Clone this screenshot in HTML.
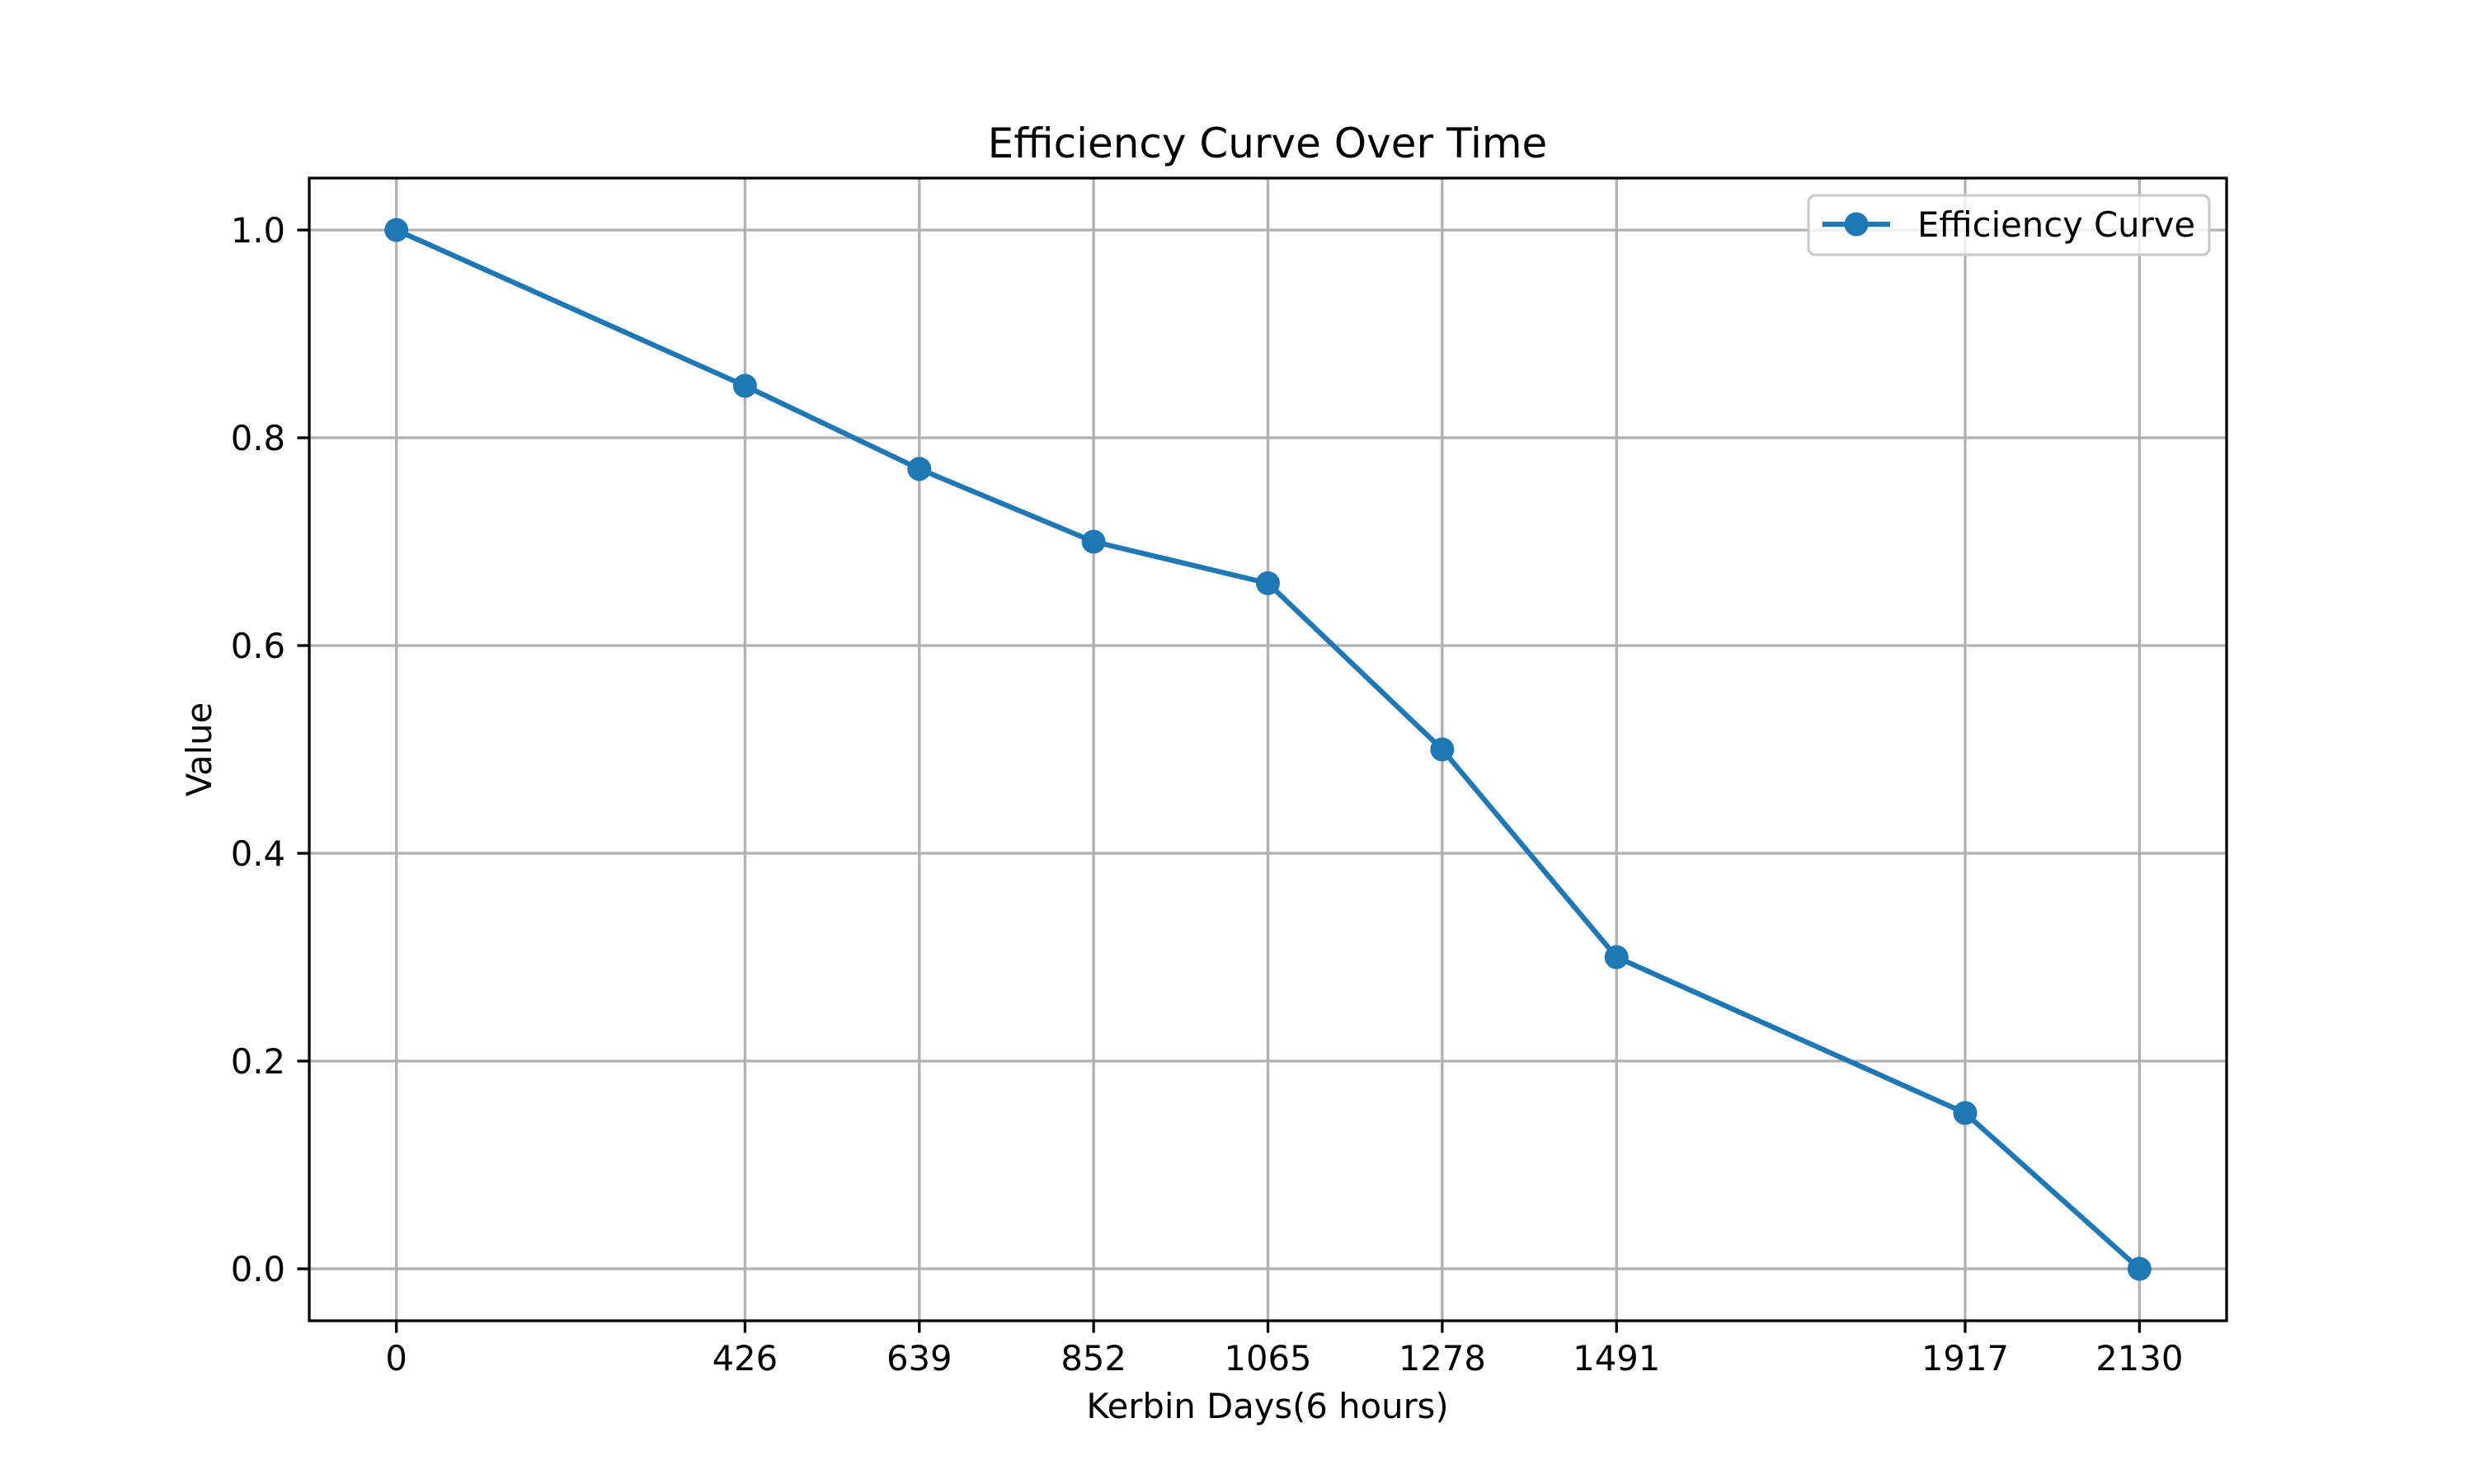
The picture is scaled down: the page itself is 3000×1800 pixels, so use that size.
<!DOCTYPE html>
<html><head><meta charset="utf-8"><style>
html,body{margin:0;padding:0;background:#fff;}
svg{display:block;font-family:"DejaVu Sans","Liberation Sans",sans-serif;}
</style></head><body>
<svg id="chart" width="3000" height="1800" viewBox="0 0 3000 1800" xmlns="http://www.w3.org/2000/svg">
<rect width="3000" height="1800" fill="#fff"/>
<g id="grid"></g>
<g id="series"></g>
<rect x="375" y="216" width="2325" height="1386" fill="none" stroke="#000" stroke-width="3.3"/>
<g id="xticks"></g>
<g id="yticks"></g>
<text x="1537" y="191" text-anchor="middle" font-size="50">Efficiency Curve Over Time</text>
<text x="1537" y="1720" text-anchor="middle" font-size="41.7">Kerbin Days(6 hours)</text>
<text x="0" y="0" transform="translate(256,909) rotate(-90)" text-anchor="middle" font-size="41.7">Value</text>
<g>
<rect x="2193" y="237" width="486" height="72" rx="8" fill="#fff" fill-opacity="0.8" stroke="#cccccc" stroke-width="3.3"/>
<line x1="2210" y1="272" x2="2292" y2="272" stroke="#1f77b4" stroke-width="6.25"/>
<circle cx="2251" cy="272" r="14.5" fill="#1f77b4"/>
<text x="2325" y="287" font-size="41.7">Efficiency Curve</text>
</g>
</svg>
<script>
const xValues = [0, 426, 639, 852, 1065, 1278, 1491, 1917, 2130];
const yValues = [1.0, 0.85, 0.77, 0.70, 0.66, 0.50, 0.30, 0.15, 0.0];
const yTicks = [0.0, 0.2, 0.4, 0.6, 0.8, 1.0];
const yTickLabels = ["0.0", "0.2", "0.4", "0.6", "0.8", "1.0"];

const NS = "http://www.w3.org/2000/svg";
const L = 375, R = 2700, T = 216, B = 1602;
const xmin0 = Math.min(...xValues), xmax0 = Math.max(...xValues);
const xpad = (xmax0 - xmin0) * 0.05;
const xmin = xmin0 - xpad, xmax = xmax0 + xpad;
const ymin = -0.05, ymax = 1.05;
const sx = v => L + (v - xmin) / (xmax - xmin) * (R - L);
const sy = v => B - (v - ymin) / (ymax - ymin) * (B - T);
function mk(tag, attrs, parent) {
  const e = document.createElementNS(NS, tag);
  for (const k in attrs) e.setAttribute(k, attrs[k]);
  parent.appendChild(e);
  return e;
}
const grid = document.getElementById('grid');
const xt = document.getElementById('xticks');
const yt = document.getElementById('yticks');
const series = document.getElementById('series');
xValues.forEach(v => {
  const x = sx(v);
  const g = mk('line', {x1: x, x2: x, y1: T, y2: B, stroke: '#b0b0b0', 'stroke-width': 3.3}, grid);
  
  
  const t = mk('line', {x1: x, x2: x, y1: B, y2: B + 14.6, stroke: '#000', 'stroke-width': 3.3}, xt);
  
  
  const l = mk('text', {x: x, y: 1662, 'text-anchor': 'middle', 'font-size': 41.7}, xt);
  l.textContent = String(v);
  
  
});
yTicks.forEach((v, i) => {
  const y = sy(v);
  const g = mk('line', {x1: L, x2: R, y1: y, y2: y, stroke: '#b0b0b0', 'stroke-width': 3.3}, grid);
  
  
  const t = mk('line', {x1: L - 14.6, x2: L, y1: y, y2: y, stroke: '#000', 'stroke-width': 3.3}, yt);
  
  
  const l = mk('text', {x: 346, y: y + 15, 'text-anchor': 'end', 'font-size': 41.7}, yt);
  l.textContent = yTickLabels[i];
  
  
});
const pts = xValues.map((v, i) => sx(v) + ',' + sy(yValues[i])).join(' ');
const pl = mk('polyline', {points: pts, fill: 'none', stroke: '#1f77b4', 'stroke-width': 6.25, 'stroke-linejoin': 'round', 'stroke-linecap': 'square'}, series);


xValues.forEach((v, i) => {
  const c = mk('circle', {cx: sx(v), cy: sy(yValues[i]), r: 14.5, fill: '#1f77b4'}, series);
  
  
});
</script>
</body></html>
